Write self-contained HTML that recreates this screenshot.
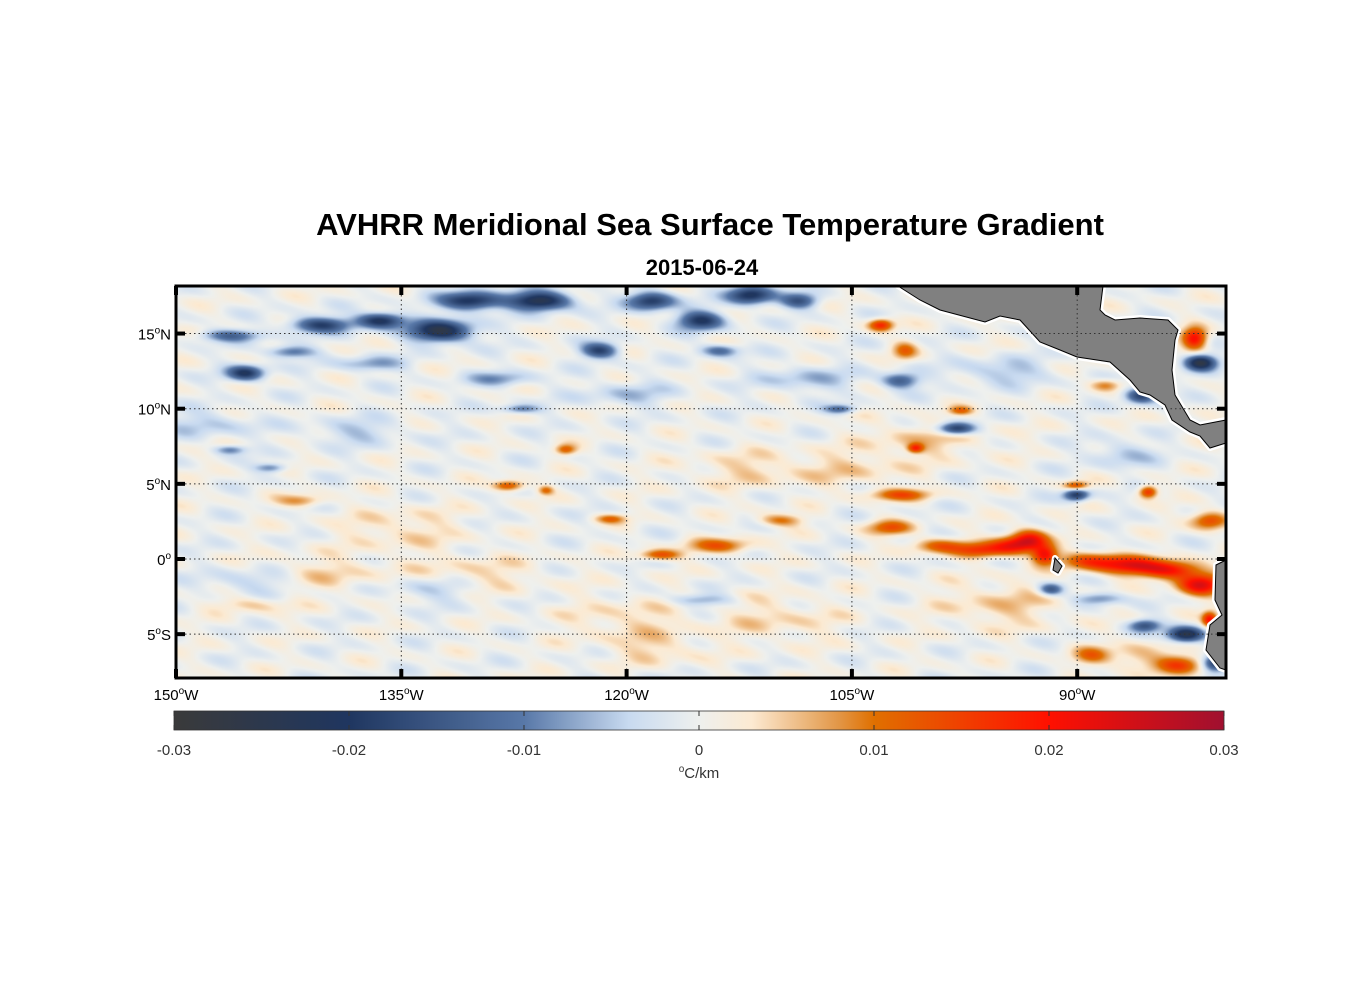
<!DOCTYPE html>
<html><head><meta charset="utf-8">
<style>
body{margin:0;background:#fff;width:1356px;height:1000px;overflow:hidden;font-family:"Liberation Sans",Arial,sans-serif}
#wrap{position:relative;width:1356px;height:1000px}
canvas{position:absolute;left:176px;top:286px}
svg{position:absolute;left:0;top:0}
</style></head><body>
<div id="wrap">
<canvas id="map" width="1050" height="392"></canvas>
<svg id="ov" width="1356" height="1000">
<text x="710" y="235" text-anchor="middle" font-size="31" font-weight="bold">AVHRR Meridional Sea Surface Temperature Gradient</text>
<text x="702" y="275" text-anchor="middle" font-size="22" font-weight="bold">2015-06-24</text>
<g id="land"></g>
<g id="grid"></g>
<rect x="176" y="286" width="1050" height="392" fill="none" stroke="#000" stroke-width="3"/>
<g id="ticks"></g>
<defs><linearGradient id="cbg" x1="0" x2="1" y1="0" y2="0"></linearGradient></defs>
<rect x="174" y="711" width="1050" height="19" fill="url(#cbg)" stroke="#333" stroke-width="0.8"/>
<g id="cbt"></g>
<text x="699" y="778" text-anchor="middle" font-size="15" fill="#333"><tspan font-size="10" dy="-6">o</tspan><tspan dy="6">C/km</tspan></text>
</svg>
</div>
<script>
// Data
const lonTicks=[-150,-135,-120,-105,-90];
const lonLabels=["150","135","120","105","90"];
const latTicks=[15,10,5,0,-5];
const latLabels=["15","10","5","0","5"];
const latSuffix=["N","N","N","",'S'];
const cbTicks=[-0.03,-0.02,-0.01,0,0.01,0.02,0.03];
const cbLabels=["-0.03","-0.02","-0.01","0","0.01","0.02","0.03"];
// blobs: lon, lat, value, rx(deg), ry(deg)
const blobLon=[-145.4,-146.4,-142.4,-140.4,-136.4,-132.4,-130.4,-125.8,-121.8,-118.4,-115.1,-111.8,-113.8,-108.5,-101.8,-98.1,-90.1,-81.8,-82.8,-80.8,-85.5,-85.8,-91.8,-105.8,-127.1,-146.4,-143.7,-115.1,-88.5,-128.5,-137,
 -127.9,-125.4,-124.1,-117.8,-113.8,-109.8,-121.1,-103.1,-101.5,-101.8,-100.8,-102.5,-99.2,-96.5,-94.5,-93.2,-92.2,-89.1,-86.5,-83.8,-81.8,-90.1,-85.3,-81.2,-82.2,-83.2,-89.1,-88.1,-97.8,-141.7,-145.1,-81.2,-135,-120,-110,-95,-140,-130,-105,-112,-100,-86,
 -148,-138,-120,-108,-95,-87,-145,-133,-118];
const blobLat=[12.4,14.9,13.8,15.6,15.9,15.2,17.2,17.2,13.9,17.2,15.9,17.6,13.9,17.2,11.9,8.7,4.3,13.1,-5,-6.9,-4.4,10.9,-2,10,10,7.3,6.1,-2.7,-2.6,12,13,
 4.9,4.6,7.3,0.3,0.9,2.6,2.7,15.6,13.9,4.3,7.4,2.1,0.9,0.6,0.9,1.3,0.3,-0.1,-0.4,-0.7,-1.7,4.9,4.5,2.6,14.7,-7,-6.4,11.6,9.9,3.9,-3,-4,2,-4,-4,-3,-1,-1,6,6,8,-6.5,
 9,8.5,11,12,12.5,7,-1.5,-2,-6];
const blobVal=[-0.02,-0.012,-0.012,-0.018,-0.022,-0.025,-0.022,-0.025,-0.018,-0.02,-0.02,-0.022,-0.012,-0.015,-0.015,-0.022,-0.02,-0.025,-0.025,-0.02,-0.015,-0.018,-0.015,-0.012,-0.01,-0.01,-0.01,-0.008,-0.01,-0.008,-0.008,
 0.015,0.01,0.012,0.014,0.012,0.01,0.01,0.018,0.01,0.012,0.015,0.012,0.012,0.014,0.016,0.02,0.02,0.015,0.018,0.02,0.022,0.014,0.018,0.015,0.022,0.014,0.01,0.01,0.01,0.008,0.005,0.02,0.004,0.004,0.004,0.005,0.004,0.004,0.004,0.004,0.005,0.006,
 -0.005,-0.005,-0.005,-0.006,-0.006,-0.006,-0.005,-0.005,0.004];
const blobRx=[1.2,2,1.5,2,1.5,2,2,2,1.2,1.5,1.5,1.5,1.2,1.2,1.2,1.2,0.8,1,1.2,0.8,1,1,0.8,1,1.2,1,1,2,1.5,2,2,
 1,0.5,0.7,1.3,2,1.5,1,0.8,0.8,2,0.5,1.5,1.8,1.6,1.4,1.2,0.8,2,2,2,1.5,0.8,0.6,1.2,0.8,1.5,1.2,1,0.8,1.5,2.5,0.5,4,4,4,4,4,4,4,4,4,2,
 3,3,3,3,3,2,3,3,3];
const blobRy=[0.5,0.4,0.4,0.5,0.5,0.7,0.6,0.6,0.5,0.6,0.6,0.6,0.4,0.5,0.5,0.4,0.4,0.5,0.5,0.5,0.4,0.5,0.4,0.3,0.3,0.3,0.3,0.4,0.4,0.5,0.5,
 0.35,0.3,0.35,0.35,0.5,0.4,0.3,0.4,0.6,0.4,0.3,0.5,0.5,0.5,0.6,0.7,0.6,0.6,0.6,0.6,0.7,0.3,0.4,0.6,0.7,0.6,0.6,0.4,0.3,0.4,0.5,0.5,1.5,1.5,1.5,1.5,1.2,1.2,1.2,1.2,1.2,1,
 0.8,0.8,0.8,0.8,0.8,0.8,0.8,0.8,1];

const x0=176,y0=286,W=1050,H=392;
const xs=lon=>x0+(lon+150)*15.02;
const ys=lat=>559-lat*15.03;
const cmap=[[-0.03,[58,58,58]],[-0.02,[31,54,96]],[-0.01,[88,120,168]],[-0.004,[200,218,240]],[0,[238,240,238]],[0.003,[252,234,210]],[0.008,[226,150,70]],[0.01,[224,112,0]],[0.02,[255,16,0]],[0.03,[160,16,48]]];
function col(v){
  if(v<=cmap[0][0])return cmap[0][1];
  for(let i=1;i<cmap.length;i++){if(v<=cmap[i][0]){const a=cmap[i-1],b=cmap[i],t=(v-a[0])/(b[0]-a[0]);return a[1].map((c,k)=>c+(b[1][k]-c)*t);}}
  return cmap[cmap.length-1][1];
}
const cv=document.getElementById('map'),ctx=cv.getContext('2d');
const img=ctx.createImageData(W,H);
const bx=blobLon.map(xs),by=blobLat.map(ys),brx=blobRx.map(r=>r*15.02),bry=blobRy.map(r=>r*15.03);
for(let j=0;j<H;j++){for(let i=0;i<W;i++){
  const px=x0+i,py=y0+j;let v=0;
  for(let k=0;k<bx.length;k++){const dx=(px-bx[k])/brx[k],dy=(py-by[k])/bry[k];const d=dx*dx+dy*dy;if(d<9)v+=blobVal[k]*Math.exp(-d);}
  v+=0.0022*Math.sin(px*0.045+py*0.13)*Math.cos(py*0.09-px*0.025)+0.0012*Math.sin(px*0.11-py*0.21);
  const c=col(v),o=(j*W+i)*4;img.data[o]=c[0];img.data[o+1]=c[1];img.data[o+2]=c[2];img.data[o+3]=255;}}
ctx.putImageData(img,0,0);

const NS='http://www.w3.org/2000/svg';
function mk(t,a,p){const e=document.createElementNS(NS,t);for(const k in a)e.setAttribute(k,a[k]);p.appendChild(e);return e;}
const land=document.getElementById('land');
const polys=[
 "898,286 920,300 940,310 985,322 1000,316 1020,320 1040,342 1060,350 1077,357 1110,362 1130,380 1140,392 1150,395 1165,405 1172,420 1190,432 1200,436 1210,448 1226,443 1226,420 1200,425 1190,420 1175,395 1172,370 1175,340 1178,330 1168,320 1140,318 1115,320 1105,315 1100,310 1103,286",
 "1226,560 1216,565 1215,600 1222,615 1210,625 1206,650 1220,668 1226,670",
 "1055,558 1062,566 1058,573 1053,570"
];
const landNames=['central-america-land','south-america-land','galapagos-island'];
polys.forEach((p,i)=>{
 const h=mk('polygon',{points:p,fill:'none',stroke:'#fff','stroke-width':6,'stroke-linejoin':'round'},land);
 
 
 const e=mk('polygon',{points:p,fill:'#808080',stroke:'#000','stroke-width':1},land);
 
 
});
const grid=document.getElementById('grid'),ticks=document.getElementById('ticks');
lonTicks.forEach((lon,i)=>{
 const x=xs(lon);
 const g=mk('line',{x1:x,x2:x,y1:y0,y2:y0+H,stroke:'#333','stroke-width':1,'stroke-dasharray':'1.5,3'},grid);
 
 
 mk('line',{x1:x,x2:x,y1:y0,y2:y0+9,stroke:'#000','stroke-width':4},ticks);
 mk('line',{x1:x,x2:x,y1:y0+H-9,y2:y0+H,stroke:'#000','stroke-width':4},ticks);
 const t=mk('text',{x:x,y:700,'text-anchor':'middle','font-size':15},ticks);
 
 
 t.innerHTML=lonLabels[i]+'<tspan font-size="10" dy="-6">o</tspan><tspan dy="6">W</tspan>';
});
latTicks.forEach((lat,i)=>{
 const y=ys(lat);
 const g=mk('line',{x1:x0,x2:x0+W,y1:y,y2:y,stroke:'#333','stroke-width':1,'stroke-dasharray':'1.5,3'},grid);
 
 
 mk('line',{x1:x0,x2:x0+9,y1:y,y2:y,stroke:'#000','stroke-width':4},ticks);
 mk('line',{x1:x0+W-9,x2:x0+W,y1:y,y2:y,stroke:'#000','stroke-width':4},ticks);
 const t=mk('text',{x:171,y:y+6,'text-anchor':'end','font-size':15},ticks);
 
 
 t.innerHTML=latLabels[i]+'<tspan font-size="10" dy="-6">o</tspan><tspan dy="6">'+latSuffix[i]+'</tspan>';
});
const grad=document.getElementById('cbg');
for(let s=0;s<=60;s++){const v=-0.03+s*0.001;const c=col(v);mk('stop',{offset:(s/60),'stop-color':'rgb('+c.map(Math.round).join(',')+')'},grad);}
const cbt=document.getElementById('cbt');
cbTicks.forEach((v,i)=>{
 const x=174+(v+0.03)/0.06*1050;
 mk('line',{x1:x,x2:x,y1:711,y2:716,stroke:'#333','stroke-width':1},cbt);
 mk('line',{x1:x,x2:x,y1:725,y2:730,stroke:'#333','stroke-width':1},cbt);
 const t=mk('text',{x:x,y:755,'text-anchor':'middle','font-size':15,fill:'#333'},cbt);
 
 
 t.textContent=cbLabels[i];
});
</script>
</body></html>
